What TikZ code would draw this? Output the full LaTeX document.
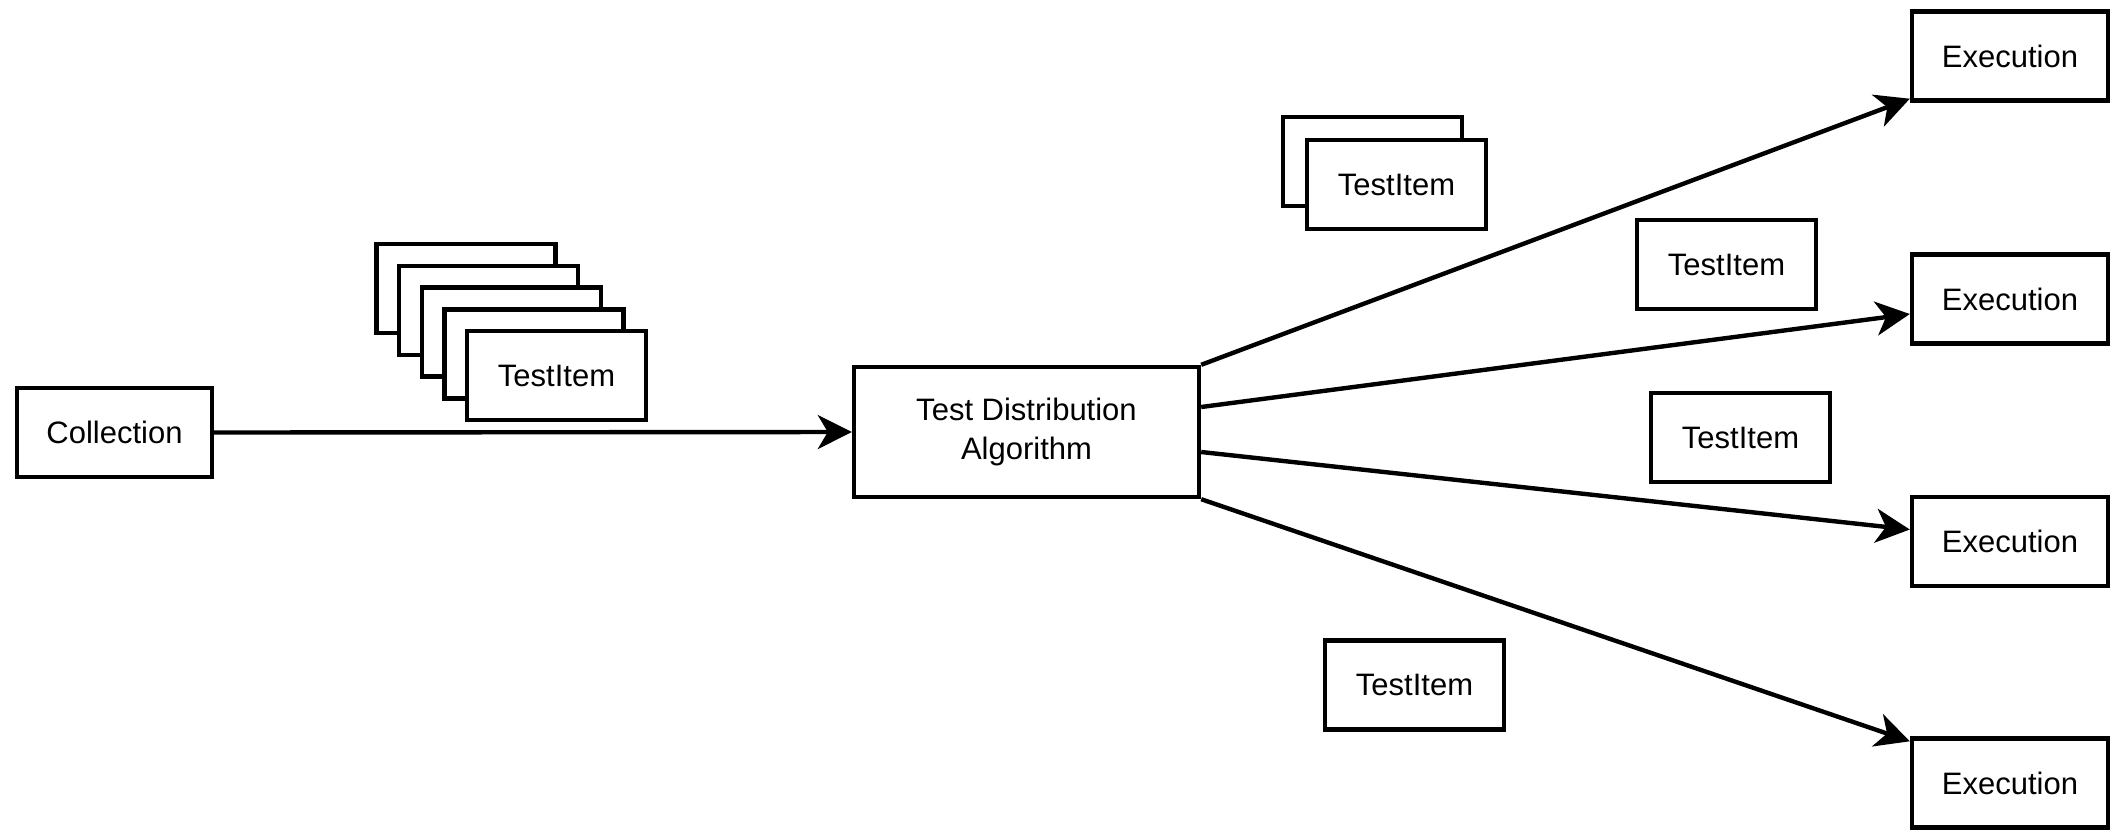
\documentclass[tikz,border=0pt]{standalone}
\usepackage{fontspec}
\setmainfont{Liberation Sans}
\usetikzlibrary{arrows.meta}

\begin{document}
\begin{tikzpicture}[x=1pt,y=-1pt,font=\fontsize{31}{39}\selectfont,line width=4.4pt]
% Box styles and the arrow
\tikzstyle{box}=[draw,fill=white,minimum width=196pt,minimum height=89pt,inner sep=0pt,align=center];
\tikzstyle{item}=[box,minimum width=179pt];
\tikzstyle{flow}=[-{Stealth[length=34pt,width=34pt,inset=10pt]}];
\useasboundingbox (0,0) rectangle (2121,831);
% Input and algorithm
\node(col)[box,minimum width=195pt] at (114.5,432.5){Collection};
\node(alg)[box,minimum width=345pt,minimum height=130pt] at (1026.5,432){Test Distribution\\Algorithm};
% Executions
\node(e1)[box] at (2010,56){Execution};
\node(e2)[box] at (2010,299){Execution};
\node(e3)[box] at (2010,541.5){Execution};
\node(e4)[box] at (2010,783){Execution};
% Stack of test items
\foreach \k in {4,3,2,1}
\node(back\k)[item] at (556.5-22.6*\k,375.5-21.7*\k){};
\node(stack)[item] at (556.5,375.5){TestItem};
\node(pairback)[item] at (1372.5,161.5){};
\node(pair)[item] at (1396.5,184.5){TestItem};
% Single test items
\node(t2)[item] at (1726.5,264.5){TestItem};
\node(t3)[item] at (1740.5,437.5){TestItem};
\node(t4)[item] at (1414.5,685){TestItem};
% Arrows
\draw[flow](col.east)--(alg.west);
\draw[flow](alg.north east)--([yshift=4pt]e1.south west);
\draw[flow]([yshift=25pt]alg.east)--([yshift=-15pt]e2.west);
\draw[flow]([yshift=-20pt]alg.east)--([yshift=12pt]e3.west);
\draw[flow](alg.south east)--([yshift=-5pt]e4.north west);
\end{tikzpicture}
\end{document}
